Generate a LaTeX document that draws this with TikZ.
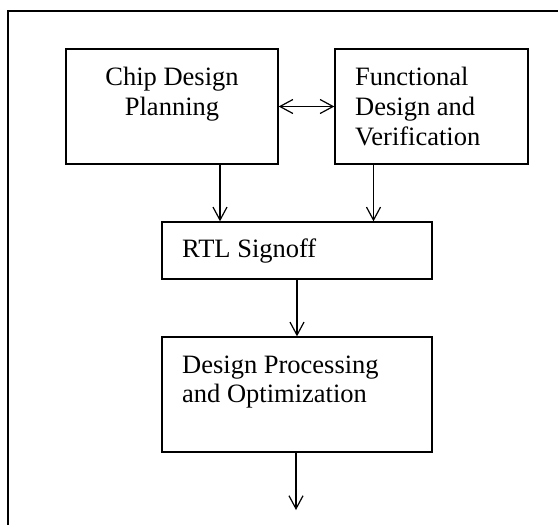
\documentclass[tikz,border=0pt]{standalone}
\usepackage{fontspec}
\setmainfont{Liberation Serif}
\usetikzlibrary{arrows.meta}
\begin{document}
\begin{tikzpicture}[x=1pt,y=-1pt,
  box/.style={draw,line width=1.3pt,rectangle,inner sep=0pt},
  lbl/.style={inner sep=0pt,font=\fontsize{26.5}{30}\selectfont},
  tip/.style={Straight Barb[length=13pt,width=14pt,line width=1.2pt]},
  arr/.style={line width=1.2pt,-{Straight Barb[length=13pt,width=14pt,line width=1.2pt]}},
  darr/.style={line width=1.2pt,{Straight Barb[length=13pt,width=14pt,line width=1.2pt]}-{Straight Barb[length=13pt,width=14pt,line width=1.2pt]}}]
  \useasboundingbox (0,0) rectangle (558,525);
  % open outer frame
  \draw[line width=1.7pt] (8,525) -- (8,10.7) -- (560,10.7);
  % boxes
  \node[box,minimum width=212pt,minimum height=115pt] (b1) at (172,106.5) {};
  \node[box,minimum width=193pt,minimum height=115pt] (b2) at (431.5,106.5) {};
  \node[box,minimum width=270pt,minimum height=57pt] (rtl) at (297,250.5) {};
  \node[box,minimum width=270pt,minimum height=115pt] (b4) at (297,394.5) {};
  % labels
  \node[lbl,anchor=base] (t1a) at (172,85) {Chip Design};
  \node[lbl,anchor=base] (t1b) at (172,115) {Planning};
  \node[lbl,anchor=base west] (t2a) at (355,85) {Functional};
  \node[lbl,anchor=base west] (t2b) at (355,115) {Design and};
  \node[lbl,anchor=base west] (t2c) at (355,145) {Verification};
  \node[lbl,anchor=base west] (t3) at (182,257) {RTL Signoff};
  \node[lbl,anchor=base west] (t4a) at (182,373) {Design Processing};
  \node[lbl,anchor=base west] (t4b) at (182,402) {and Optimization};
  % connectors
  \coordinate (out) at (296,510);
  \draw[darr] (b1.east) -- (b2.west);
  \draw[arr] ([xshift=48pt]b1.south) -- ([xshift=48pt]b1.south |- rtl.north);
  \draw[arr] ([xshift=-58pt]b2.south) -- ([xshift=-58pt]b2.south |- rtl.north);
  \draw[arr] (rtl.south) -- (b4.north);
  \draw[arr] ([xshift=-1pt]b4.south) -- (out);
\end{tikzpicture}
\end{document}
